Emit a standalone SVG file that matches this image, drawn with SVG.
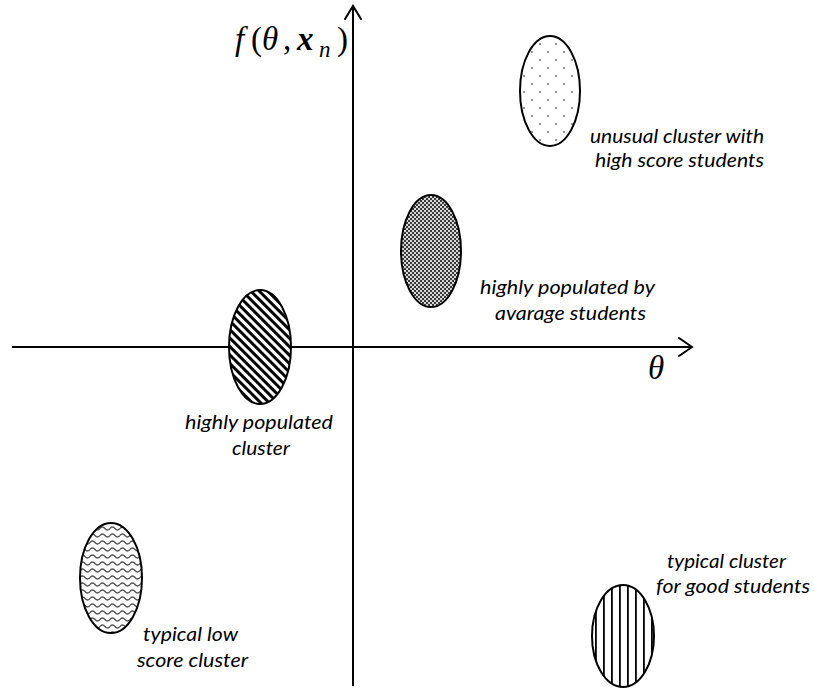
<svg xmlns="http://www.w3.org/2000/svg" width="814" height="689" viewBox="0 0 814 689">
<style>
.axis{stroke:#000;stroke-width:2;fill:none}
.head{stroke:#000;stroke-width:2;fill:none;stroke-linecap:round;stroke-linejoin:miter}
.ell{stroke:#000;stroke-width:2}
.lbl{font-family:Lato,"Open Sans","Liberation Sans",sans-serif;font-style:italic;font-size:20px;fill:#000}
.math{font-family:"Liberation Serif","DejaVu Serif",serif;font-style:italic;font-size:33px;fill:#000}
</style>
<defs>
<pattern id="pDots" width="16" height="16" patternUnits="userSpaceOnUse">
<rect width="16" height="16" fill="#fff"/>
<circle cx="4" cy="4" r="0.9" fill="#666"/>
<circle cx="12" cy="12" r="0.9" fill="#666"/>
</pattern>
<pattern id="pCheck" width="4" height="4" patternUnits="userSpaceOnUse">
<rect width="4" height="4" fill="#d6d6d6"/>
<rect width="2" height="2" fill="#3a3a3a"/>
<rect x="2" y="2" width="2" height="2" fill="#3a3a3a"/>
</pattern>
<pattern id="pDiag" width="6" height="6" patternUnits="userSpaceOnUse" patternTransform="rotate(-45)">
<rect width="6" height="6" fill="#fff"/>
<rect width="3" height="6" fill="#000"/>
</pattern>
<pattern id="pWave" width="10" height="7" patternUnits="userSpaceOnUse">
<rect width="10" height="7" fill="#fff"/>
<path d="M0 3.5 Q2.5 0.5 5 3.5 T10 3.5" stroke="#555" stroke-width="1.5" fill="none"/>
</pattern>
<pattern id="pVert" width="8" height="8" patternUnits="userSpaceOnUse">
<rect width="8" height="8" fill="#fff"/>
<rect x="3" width="1.8" height="8" fill="#000"/>
</pattern>
</defs>

<g id="connectors">
<line class="axis" x1="12" y1="347" x2="691" y2="347"/>
<polyline class="head" points="679,338 692,347 679,356"/>
<line class="axis" x1="353" y1="686" x2="353" y2="7"/>
<polyline class="head" points="345,19 353,6 361,19"/>
</g>

<g id="axis-labels">
<text class="math" x="235" y="50">f</text>
<text class="math" x="251" y="50" style="font-style:normal">(</text>
<text class="math" x="262" y="50">θ</text>
<text class="math" x="283" y="50" style="font-style:normal">,</text>
<text class="math" x="297" y="50" style="font-weight:bold">x</text>
<text class="math" x="319" y="57" style="font-size:23px">n</text>
<text class="math" x="337" y="50" style="font-style:normal">)</text>
<text class="math" x="648" y="379">θ</text>
</g>

<g id="node-unusual">
<ellipse class="ell" cx="550" cy="91" rx="30" ry="55" fill="url(#pDots)"/>
<text class="lbl" x="590" y="143" textLength="174" lengthAdjust="spacingAndGlyphs">unusual cluster with</text>
<text class="lbl" x="595" y="167" textLength="169" lengthAdjust="spacingAndGlyphs">high score students</text>
</g>

<g id="node-average">
<ellipse class="ell" cx="431" cy="251" rx="30" ry="56" fill="url(#pCheck)"/>
<text class="lbl" x="480" y="294" textLength="175" lengthAdjust="spacingAndGlyphs">highly populated by</text>
<text class="lbl" x="495" y="320" textLength="151" lengthAdjust="spacingAndGlyphs">avarage students</text>
</g>

<g id="node-populated">
<ellipse class="ell" cx="260" cy="347" rx="31" ry="57" fill="url(#pDiag)"/>
<text class="lbl" x="185" y="429" textLength="148" lengthAdjust="spacingAndGlyphs">highly populated</text>
<text class="lbl" x="232" y="455" textLength="58" lengthAdjust="spacingAndGlyphs">cluster</text>
</g>

<g id="node-low">
<ellipse class="ell" cx="111" cy="578" rx="31" ry="55" fill="url(#pWave)"/>
<text class="lbl" x="143" y="641" textLength="95" lengthAdjust="spacingAndGlyphs">typical low</text>
<text class="lbl" x="137" y="667" textLength="111" lengthAdjust="spacingAndGlyphs">score cluster</text>
</g>

<g id="node-good">
<ellipse class="ell" cx="623" cy="636" rx="31" ry="51" fill="url(#pVert)"/>
<text class="lbl" x="667" y="568" textLength="119" lengthAdjust="spacingAndGlyphs">typical cluster</text>
<text class="lbl" x="656" y="593" textLength="154" lengthAdjust="spacingAndGlyphs">for good students</text>
</g>
</svg>
